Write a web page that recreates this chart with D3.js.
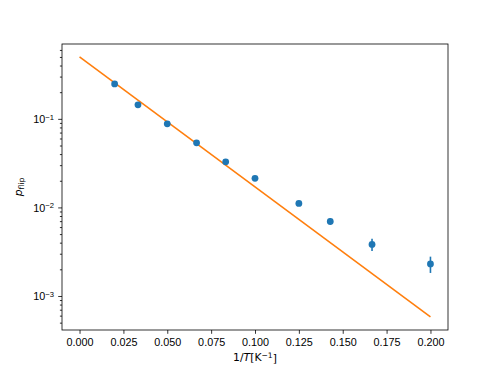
<!DOCTYPE html>
<html>
<head>
<meta charset="utf-8">
<script src="https://cdn.jsdelivr.net/npm/d3@7"></script>
<style>
  body { margin: 0; background: #fff; }
  svg { font-family: 'DejaVu Sans', sans-serif; }
  .axis text { font-size: 10.8px; fill: #000; }
  .axis path, .axis line { stroke: #000; stroke-width: 0.8; }
</style>
</head>
<body>
<script>
// data
var invT = [0.02, 0.0333, 0.05, 0.0667, 0.0833, 0.1, 0.125, 0.1429, 0.1667, 0.2];
var pFlip = [0.248, 0.144, 0.0878, 0.0536, 0.0327, 0.0213, 0.0111, 0.00695, 0.00382, 0.0023];
var pErr = [0.004, 0.003, 0.002, 0.0012, 0.0008, 0.0005, 0.0003, 0.0006, 0.0006, 0.00048];
var fitX = [0, 0.2];
var fitY = [0.5, 0.00058];
var xTicks = [0, 0.025, 0.05, 0.075, 0.1, 0.125, 0.15, 0.175, 0.2];
var yTicks = [1e-3, 1e-2, 1e-1];
var yExp = {"0.001": "\u22123", "0.01": "\u22122", "0.1": "\u22121"};

var W = 498, H = 371;
var margin = {top: 44, right: 50, bottom: 41, left: 62},
    width = W - margin.left - margin.right,
    height = H - margin.top - margin.bottom;

var svg = d3.select("body").append("svg")
    .attr("width", W)
    .attr("height", H);
var g = svg.append("g")
    .attr("transform", "translate(" + margin.left + "," + margin.top + ")");

var x = d3.scaleLinear().domain([-0.01, 0.21]).range([0, width]);
var y = d3.scaleLog().domain([0.000413, 0.70]).range([height, 0]);

// minor ticks for the log axis
var minor = [];
[1e-4, 1e-3, 1e-2, 1e-1].forEach(function(d) {
  for (var k = 2; k <= 9; k++) {
    var v = d * k;
    if (v >= y.domain()[0] && v <= y.domain()[1]) minor.push(v);
  }
});

g.append("g")
    .attr("class", "axis")
    .attr("transform", "translate(0," + height + ")")
    .call(d3.axisBottom(x).tickValues(xTicks).tickFormat(d3.format(".3f")).tickSize(3.8).tickPadding(4.5))
    .call(function(s) { s.select(".domain").remove(); });

var ya = g.append("g")
    .attr("class", "axis")
    .call(d3.axisLeft(y).tickValues(minor).tickFormat("").tickSize(2.1))
    .call(function(s) { s.select(".domain").remove(); });

var yMaj = g.append("g")
    .attr("class", "axis")
    .call(d3.axisLeft(y).tickValues(yTicks).tickSize(3.8).tickPadding(4.5).tickFormat(""))
    .call(function(s) { s.select(".domain").remove(); });

yMaj.selectAll(".tick").append("text")
    .attr("x", -8)
    .attr("dy", "0.35em")
    .attr("text-anchor", "end")
    .each(function(d) {
      var t = d3.select(this);
      t.append("tspan").text("10");
      t.append("tspan").attr("dy", "-0.45em").attr("font-size", "7.6px").text(yExp[String(d)]);
    });

// frame
g.append("rect")
    .attr("width", width)
    .attr("height", height)
    .attr("fill", "none")
    .attr("stroke", "#000")
    .attr("stroke-width", 0.8);

// fit line
var line = d3.line()
    .x(function(d, i) { return x(fitX[i]); })
    .y(function(d) { return y(d); });
g.append("path")
    .datum(fitY)
    .attr("d", line)
    .attr("fill", "none")
    .attr("stroke", "#ff7f0e")
    .attr("stroke-width", 1.6);

// error bars
g.selectAll(".err")
    .data(pFlip)
  .enter().append("line")
    .attr("class", "err")
    .attr("x1", function(d, i) { return x(invT[i]); })
    .attr("x2", function(d, i) { return x(invT[i]); })
    .attr("y1", function(d, i) { return y(d + pErr[i]); })
    .attr("y2", function(d, i) { return y(d - pErr[i]); })
    .attr("stroke", "#1f77b4")
    .attr("stroke-width", 1.6);

g.selectAll(".dot")
    .data(pFlip)
  .enter().append("circle")
    .attr("class", "dot")
    .attr("cx", function(d, i) { return x(invT[i]); })
    .attr("cy", function(d) { return y(d); })
    .attr("r", 3.4)
    .attr("fill", "#1f77b4");

// axis labels
var xl = svg.append("text")
    .attr("x", margin.left + width / 2)
    .attr("y", 361)
    .attr("text-anchor", "middle")
    .attr("font-size", "10.8px");
xl.append("tspan").text("1/");
xl.append("tspan").attr("font-style", "italic").text("T");
xl.append("tspan").text("[K");
xl.append("tspan").attr("dy", "-0.45em").attr("font-size", "7.6px").text("\u22121");
xl.append("tspan").attr("dy", "0.45em").text("]");

var yl = svg.append("text")
    .attr("transform", "translate(22," + (margin.top + height / 2) + ") rotate(-90)")
    .attr("text-anchor", "middle")
    .attr("font-size", "10.8px");
yl.append("tspan").attr("font-style", "italic").text("p");
yl.append("tspan").attr("dy", "0.3em").attr("font-size", "7.6px").text("flip");
</script>
</body>
</html>
